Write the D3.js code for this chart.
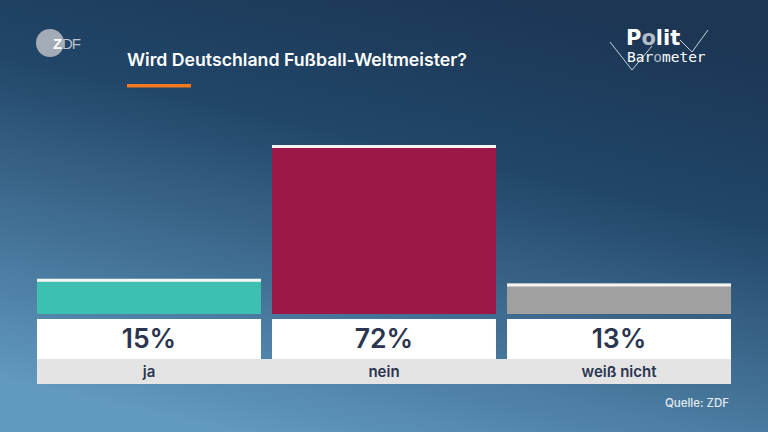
<!DOCTYPE html>
<html>
<head>
<meta charset="utf-8">
<script src="https://cdn.jsdelivr.net/npm/d3@7"></script>
<style>
  body { margin: 0; overflow: hidden; }
  svg { display: block; font-family: Inter, "Open Sans", sans-serif; }
</style>
</head>
<body>
<div id="chart"></div>
<script>
const categories = ["ja", "nein", "weiß nicht"];
const values = [15, 72, 13];
const barColors = ["#3dbfb2", "#9c1848", "#a0a0a0"];
const title = "Wird Deutschland Fußball-Weltmeister?";
const source = "Quelle: ZDF";

const W = 768, H = 432;
const svg = d3.select("#chart").append("svg")
    .attr("width", W).attr("height", H);

// background gradient
const defs = svg.append("defs");
const grad = defs.append("linearGradient").attr("id", "bg")
    .attr("x1", "0.7").attr("y1", "0").attr("x2", "0.3").attr("y2", "1");
grad.append("stop").attr("offset", "0").attr("stop-color", "#1c3654");
grad.append("stop").attr("offset", "0.35").attr("stop-color", "#214669");
grad.append("stop").attr("offset", "1").attr("stop-color", "#6299bf");
svg.append("rect").attr("width", W).attr("height", H).attr("fill", "url(#bg)");

// ZDF logo
svg.append("circle").attr("cx", 50).attr("cy", 43).attr("r", 14).attr("fill", "#a3abb6");
svg.append("text").attr("x", 53).attr("y", 49).attr("font-size", 15)
    .attr("font-weight", "bold").attr("fill", "#fff").attr("letter-spacing", -1)
    .style("font-family", "Liberation Sans, sans-serif").text("Z");
svg.append("text").attr("x", 62).attr("y", 49).attr("font-size", 15)
    .attr("fill", "#b9c2cc").attr("letter-spacing", -1)
    .style("font-family", "Liberation Sans, sans-serif").text("DF");

// Politbarometer logo
svg.append("path")
    .attr("d", "M610,42 L632,70 L652,46 M680,40 L692,52 L708,30")
    .attr("fill", "none").attr("stroke", "#c9d3dd").attr("stroke-width", 1);
const polit = svg.append("text").attr("x", 626).attr("y", 45).attr("font-size", 21)
    .attr("font-weight", "bold").attr("fill", "#fff")
    .style("font-family", "DejaVu Sans, sans-serif");
polit.append("tspan").text("P");
polit.append("tspan").attr("fill", "#b4bec9").text("o");
polit.append("tspan").text("lit");
const baro = svg.append("text").attr("x", 627).attr("y", 62).attr("font-size", 14.5)
    .attr("fill", "#fff")
    .style("font-family", "DejaVu Sans Mono, monospace");
baro.append("tspan").text("Bar");
baro.append("tspan").attr("fill", "#b4bec9").text("o");
baro.append("tspan").text("meter");

// title
svg.append("text").attr("x", 127).attr("y", 66).attr("font-size", 17.7)
    .attr("font-weight", 600).attr("fill", "#fff").text(title);
svg.append("rect").attr("x", 127).attr("y", 84).attr("width", 64).attr("height", 3.5)
    .attr("fill", "#f47a20");

// scales
const x = d3.scaleBand().domain(categories).range([37, 731]).paddingInner(0.047);
const y = d3.scaleLinear().domain([0, 72]).range([314, 145]);

// label band
svg.append("rect").attr("x", 37).attr("y", 359).attr("width", 694).attr("height", 25)
    .attr("fill", "#e5e4e4");

const g = svg.selectAll("g.col").data(categories).enter().append("g").attr("class", "col");

g.append("rect")
    .attr("x", d => x(d)).attr("width", x.bandwidth())
    .attr("y", (d, i) => y(values[i]))
    .attr("height", (d, i) => y(0) - y(values[i]))
    .attr("fill", (d, i) => barColors[i]);
g.append("rect")
    .attr("x", d => x(d)).attr("width", x.bandwidth())
    .attr("y", (d, i) => y(values[i])).attr("height", 3)
    .attr("fill", "#f4f4f4");

g.append("rect")
    .attr("x", d => x(d)).attr("width", x.bandwidth())
    .attr("y", 319).attr("height", 40).attr("fill", "#fff");

g.append("text")
    .attr("x", d => x(d) + x.bandwidth() / 2).attr("y", 348)
    .attr("text-anchor", "middle").attr("font-size", 26.5).attr("font-weight", 600)
    .attr("fill", "#2b3550")
    .text((d, i) => values[i] + "%");

g.append("text")
    .attr("x", d => x(d) + x.bandwidth() / 2).attr("y", 377)
    .attr("text-anchor", "middle").attr("font-size", 15).attr("font-weight", 600)
    .attr("fill", "#2b3550")
    .text(d => d);

// source
svg.append("text").attr("x", 729).attr("y", 407).attr("text-anchor", "end")
    .attr("font-size", 11.5).attr("font-weight", 500).attr("fill", "#e2eaf1").text(source);
</script>
</body>
</html>
